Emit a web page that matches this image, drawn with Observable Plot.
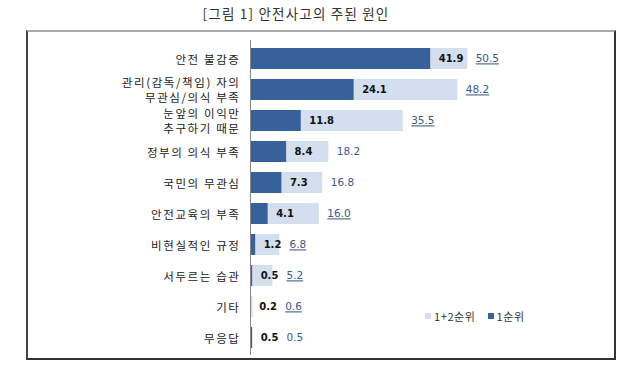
<!DOCTYPE html>
<html>
<head>
<meta charset="utf-8">
<script src="https://cdn.jsdelivr.net/npm/d3@7"></script>
<script src="https://cdn.jsdelivr.net/npm/@observablehq/plot@0.6"></script>
<style>
  html, body { margin: 0; padding: 0; background: #fff; }
  body { width: 640px; height: 377px; position: relative; overflow: hidden; font-family: "Noto Sans CJK KR", sans-serif; }
  #title { position: absolute; left: 0; width: 592px; top: 3px; text-align: center; font-size: 13.5px; color: #333; letter-spacing: 1.2px; }
  #box { position: absolute; left: 26px; top: 30px; width: 590px; height: 330px; box-sizing: border-box;
         border-top: 2px solid #aaa; border-left: 2px solid #444; border-right: 2px solid #333; border-bottom: 2px solid #333; }
  #chart { position: absolute; left: 26px; top: 30px; }
  #legend { position: absolute; left: 425px; top: 308px; font-size: 11px; color: #333; display: flex; align-items: center; letter-spacing: 0.6px; }
  #legend span.sw { display: inline-block; width: 6px; height: 6px; margin-right: 3px; }
  #legend span.item { display: inline-flex; align-items: center; margin-right: 12px; }
  #chart g[aria-label="y-axis tick label"] text { letter-spacing: 1.6px; }
</style>
</head>
<body>
<div id="title">[그림 1] 안전사고의 주된 원인</div>
<div id="box"></div>
<div id="chart"></div>
<div id="legend">
  <span class="item"><span class="sw" style="background:#d3deee"></span>1+2순위</span>
  <span class="item"><span class="sw" style="background:#36619a"></span>1순위</span>
</div>
<script>
const categories = [
  "안전 불감증",
  "관리(감독/책임) 자의\n무관심/의식 부족",
  "눈앞의 이익만\n추구하기 때문",
  "정부의 의식 부족",
  "국민의 무관심",
  "안전교육의 부족",
  "비현실적인 규정",
  "서두르는 습관",
  "기타",
  "무응답"
];
const firstRank = [41.9, 24.1, 11.8, 8.4, 7.3, 4.1, 1.2, 0.5, 0.2, 0.5];
const firstSecondRank = [50.5, 48.2, 35.5, 18.2, 16.8, 16.0, 6.8, 5.2, 0.6, 0.5];
const underlined = [true, true, true, false, false, true, true, true, true, false];

const darkColor = "#36619a";
const lightColor = "#d3deee";

const rows = categories.map((c, i) => ({
  cat: c,
  first: firstRank[i],
  both: firstSecondRank[i],
  bothLabelX: Math.max(firstSecondRank[i], firstRank[i] + 6),
  underline: underlined[i]
}));

const chart = Plot.plot({
  width: 590,
  height: 330,
  marginLeft: 224,
  marginRight: 108,
  marginTop: 10,
  marginBottom: 5,
  x: { domain: [0, 60], axis: null },
  y: { domain: categories, paddingInner: 0.33, paddingOuter: 0.16, label: null },
  style: { fontFamily: "Noto Sans CJK KR, sans-serif", fontSize: "11.5px", color: "#222", background: "transparent" },
  marks: [
    Plot.axisY({ tickSize: 0, tickPadding: 10, fontSize: 11.5, lineHeight: 1.22, label: null }),
    Plot.barX(rows, { x: "both", y: "cat", fill: lightColor }),
    Plot.barX(rows, { x: "first", y: "cat", fill: darkColor }),
    Plot.ruleX([0], { stroke: "#888", strokeWidth: 1 }),
    Plot.text(rows, { x: "first", y: "cat", text: d => d.first.toFixed(1), textAnchor: "start", dx: 8,
      fill: "#111", fontWeight: "bold", fontFamily: "DejaVu Sans, sans-serif", fontSize: 10 }),
    Plot.text(rows, { x: "bothLabelX", y: "cat", text: d => d.both.toFixed(1), textAnchor: "start", dx: 8,
      fill: "#3b5a86", fontFamily: "DejaVu Sans, sans-serif", fontSize: 10.5 })
  ]
});

document.getElementById("chart").appendChild(chart);

// underline selected 1+2순위 labels
const textGroups = chart.querySelectorAll('g[aria-label="text"]');
const lastGroup = textGroups[textGroups.length - 1];
if (lastGroup) {
  lastGroup.querySelectorAll("text").forEach((t, i) => {
    if (rows[i] && rows[i].underline) t.setAttribute("text-decoration", "underline");
  });
}
</script>
</body>
</html>
